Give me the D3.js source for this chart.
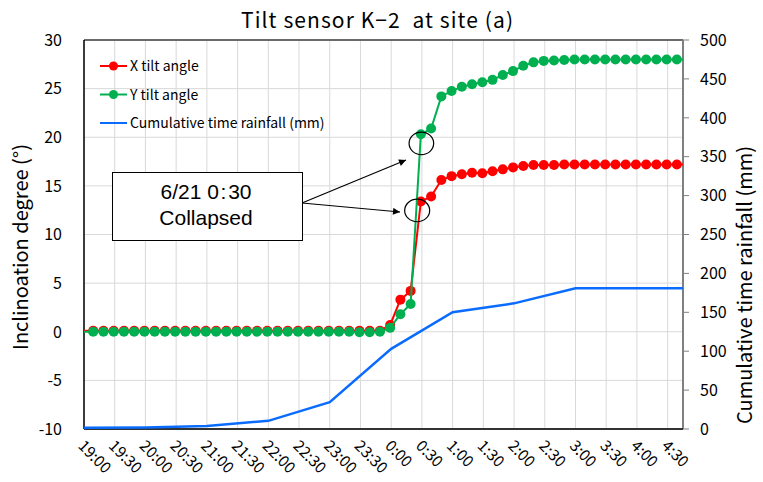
<!DOCTYPE html>
<html><head><meta charset="utf-8">
<script src="https://cdn.jsdelivr.net/npm/d3@7"></script>
<style>body{margin:0;background:#fff}svg{display:block}</style>
</head><body>
<svg id="c" width="763" height="482"></svg>
<script>
const tiltTimes = ["18:59","19:09","19:19","19:29","19:39","19:49","19:59","20:09","20:19","20:29","20:39","20:49","20:59","21:09","21:19","21:29","21:39","21:49","21:59","22:09","22:19","22:29","22:39","22:49","22:59","23:09","23:19","23:29","23:39","23:49","23:59","0:09","0:19","0:29","0:39","0:49","0:59","1:09","1:19","1:29","1:39","1:49","1:59","2:09","2:19","2:29","2:39","2:49","2:59","3:09","3:19","3:29","3:39","3:49","3:59","4:09","4:19","4:29","4:39","4:49"];
const xTilt = [0.1,0.1,0.1,0.1,0.1,0.1,0.1,0.1,0.1,0.1,0.1,0.1,0.1,0.1,0.1,0.1,0.1,0.1,0.1,0.1,0.1,0.1,0.1,0.1,0.1,0.1,0.1,0.1,0.1,0.1,0.7,3.3,4.2,13.4,13.9,15.6,16.0,16.2,16.35,16.3,16.5,16.7,16.9,17.05,17.15,17.15,17.15,17.2,17.2,17.2,17.2,17.2,17.2,17.2,17.2,17.2,17.2,17.2,17.2,17.2];
const yTilt = [0,0,0,0,0,0,0,0,0,0,0,0,0,0,0,0,0,0,0,0,0,0,0,0,0,0,0,-0.05,-0.05,0,0.4,1.8,2.85,20.3,20.9,24.2,24.75,25.2,25.45,25.65,25.9,26.4,26.8,27.35,27.7,27.85,27.9,27.95,28,28,28,28,28,28,28,28,28,28,28,28];
const rainTimes = ["19:00","20:00","21:00","22:00","23:00","0:00","1:00","2:00","3:00","4:00","5:00"];
const rainfall = [1.5,2,4,10.5,34.5,103,150,161.5,181,181,181];
const xTickLabels = ["19:00","19:30","20:00","20:30","21:00","21:30","22:00","22:30","23:00","23:30","0:00","0:30","1:00","1:30","2:00","2:30","3:00","3:30","4:00","4:30"];
const leftTicks = [-10,-5,0,5,10,15,20,25,30];
const rightTicks = [0,50,100,150,200,250,300,350,400,450,500];
const xDomain = ["19:00","4:45"];
const collapseTime = "0:29";

const toDate = s => { const [h,m] = s.split(":").map(Number); return new Date(2023,5,h<12?21:20,h,m); };
const JP = "'Noto Sans CJK JP','Noto Sans',sans-serif";
const AR = "'Liberation Sans',Arial,sans-serif";

const svg = d3.select("#c");
const L=84, R=683, T=40, B=429;
const x = d3.scaleTime().domain(xDomain.map(toDate)).range([L,R]);
const yL = d3.scaleLinear().domain([-10,30]).range([B,T]);
const yR = d3.scaleLinear().domain([0,500]).range([B,T]);

svg.append("defs").append("clipPath").attr("id","clip").append("rect").attr("x",L).attr("y",T-10).attr("width",R-L).attr("height",B-T+20);
svg.select("defs").append("marker").attr("id","ah").attr("viewBox","0 0 10 10").attr("refX",10).attr("refY",5)
  .attr("markerWidth",9).attr("markerHeight",7).attr("markerUnits","userSpaceOnUse").attr("orient","auto")
  .append("path").attr("d","M0,0L10,5L0,10z").attr("fill","#000");

// gridlines
svg.append("g").selectAll("line").data(leftTicks).join("line")
  .attr("x1",L).attr("x2",R).attr("y1",d=>yL(d)).attr("y2",d=>yL(d)).attr("stroke","#d9d9d9").attr("stroke-width",1);
svg.append("g").selectAll("line").data(xTickLabels).join("line")
  .attr("x1",d=>x(toDate(d))).attr("x2",d=>x(toDate(d))).attr("y1",T).attr("y2",B).attr("stroke","#d9d9d9").attr("stroke-width",1);

// border / axes
svg.append("line").attr("x1",L).attr("x2",R).attr("y1",T).attr("y2",T).attr("stroke","#404040").attr("stroke-width",1.5);
svg.append("line").attr("x1",R).attr("x2",R).attr("y1",T).attr("y2",B).attr("stroke","#808080").attr("stroke-width",2);
svg.append("line").attr("x1",L).attr("x2",L).attr("y1",T).attr("y2",B).attr("stroke","#000").attr("stroke-width",1.5);
svg.append("line").attr("x1",L).attr("x2",R).attr("y1",B).attr("y2",B).attr("stroke","#333").attr("stroke-width",2);

// right ticks
svg.append("g").selectAll("line").data(rightTicks).join("line")
  .attr("x1",R).attr("x2",R+6).attr("y1",d=>yR(d)).attr("y2",d=>yR(d)).attr("stroke","#808080").attr("stroke-width",1);

// left tick labels
svg.append("g").selectAll("text").data(leftTicks).join("text")
  .attr("x",62).attr("y",d=>yL(d)).attr("dy","0.36em").attr("text-anchor","end")
  .style("font-family",JP).style("font-size","16px").attr("fill","#000").text(d=>d);
// right tick labels
svg.append("g").selectAll("text").data(rightTicks).join("text")
  .attr("x",700).attr("y",d=>yR(d)).attr("dy","0.36em").attr("text-anchor","start")
  .style("font-family",JP).style("font-size","16px").attr("fill","#000").text(d=>d);
// x tick labels
svg.append("g").selectAll("text").data(xTickLabels).join("text")
  .attr("transform",d=>`translate(${x(toDate(d))-3},${443}) rotate(45)`)
  .attr("text-anchor","start").attr("dy","0.35em")
  .style("font-family",JP).style("font-size","15.5px").attr("fill","#000").text(d=>d);

// titles
svg.append("text").attr("x",241).attr("y",28).attr("text-anchor","start")
  .attr("textLength",272).attr("lengthAdjust","spacing")
  .style("font-family",JP).style("font-size","21px").style("white-space","pre").text("Tilt sensor K\u22122  at site (a)");
svg.append("text").attr("transform","translate(28,247) rotate(-90)").attr("text-anchor","middle")
  .style("font-family",JP).style("font-size","20px").text("Inclinoation degree (°)");
svg.append("text").attr("transform","translate(752,285) rotate(-90)").attr("text-anchor","middle")
  .style("font-family",JP).style("font-size","20px").text("Cumulative time rainfall (mm)");

// data
const tilt = tiltTimes.map((t,i)=>({t:toDate(t),xv:xTilt[i],yv:yTilt[i]}));
const dom = x.domain();
const inside = tilt.filter(d=>d.t>=dom[0]&&d.t<=dom[1]);
const g = svg.append("g").attr("clip-path","url(#clip)");

const rain = rainTimes.map((t,i)=>({t:toDate(t),v:rainfall[i]}));
g.append("path").datum(rain).attr("fill","none").attr("stroke","#0a6cff").attr("stroke-width",2.5)
  .attr("d",d3.line().x(d=>x(d.t)).y(d=>yR(d.v)));

g.append("path").datum(tilt).attr("fill","none").attr("stroke","#ff0000").attr("stroke-width",2)
  .attr("d",d3.line().x(d=>x(d.t)).y(d=>yL(d.xv)));
g.append("g").selectAll("circle").data(inside).join("circle")
  .attr("cx",d=>x(d.t)).attr("cy",d=>yL(d.xv)).attr("r",5).attr("fill","#ff0000");

g.append("path").datum(tilt).attr("fill","none").attr("stroke","#00b050").attr("stroke-width",2)
  .attr("d",d3.line().x(d=>x(d.t)).y(d=>yL(d.yv)));
g.append("g").selectAll("circle").data(inside).join("circle")
  .attr("cx",d=>x(d.t)).attr("cy",d=>yL(d.yv)).attr("r",5).attr("fill","#00b050");

// legend
const legend = [{n:"X tilt angle",c:"#ff0000",m:true},{n:"Y tilt angle",c:"#00b050",m:true},{n:"Cumulative time rainfall (mm)",c:"#0a6cff",m:false}];
const lg = svg.append("g");
legend.forEach((d,i)=>{
  const yy = 66 + i*28.5;
  lg.append("line").attr("x1",100).attr("x2",127).attr("y1",yy).attr("y2",yy).attr("stroke",d.c).attr("stroke-width",2);
  if(d.m) lg.append("circle").attr("cx",113.5).attr("cy",yy).attr("r",4.5).attr("fill",d.c);
  lg.append("text").attr("x",130).attr("y",yy).attr("dy","0.36em").style("font-family",JP).style("font-size","14px").text(d.n);
});

// annotation
const ct = toDate(collapseTime);
const ci = tilt.findIndex(d=>+d.t===+ct);
const cx = x(ct);
svg.append("ellipse").attr("cx",cx+0.5).attr("cy",yL(yTilt[ci])+9).attr("rx",12.3).attr("ry",11.3).attr("fill","none").attr("stroke","#000").attr("stroke-width",1.2);
svg.append("ellipse").attr("cx",cx-3.7).attr("cy",yL(xTilt[ci])+9).attr("rx",12.5).attr("ry",11.3).attr("fill","none").attr("stroke","#000").attr("stroke-width",1.2);
svg.append("line").attr("x1",302).attr("y1",203).attr("x2",406).attr("y2",160).attr("stroke","#000").attr("stroke-width",1.2).attr("marker-end","url(#ah)");
svg.append("line").attr("x1",302).attr("y1",203).attr("x2",400).attr("y2",212).attr("stroke","#000").attr("stroke-width",1.2).attr("marker-end","url(#ah)");
svg.append("rect").attr("x",112.5).attr("y",172.5).attr("width",190).attr("height",68).attr("fill","#fff").attr("stroke","#000").attr("stroke-width",1);
svg.append("text").attr("x",206).attr("y",199).attr("text-anchor","middle").style("font-family",AR).style("font-size","21px").text("6/21 0\u200A:\u200A30");
svg.append("text").attr("x",206).attr("y",225).attr("text-anchor","middle").style("font-family",AR).style("font-size","21px").text("Collapsed");
</script>
</body></html>
